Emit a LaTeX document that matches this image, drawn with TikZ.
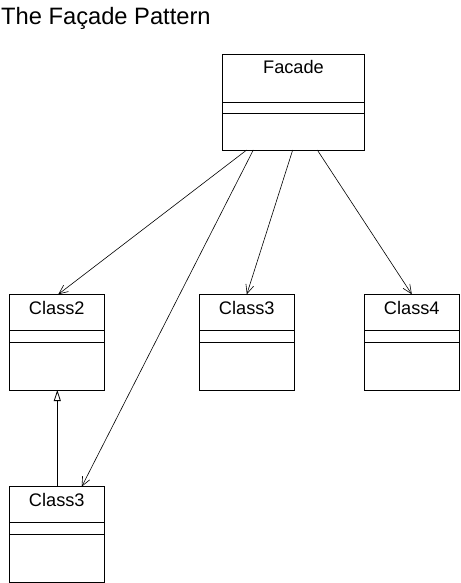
\documentclass[tikz,border=0pt]{standalone}
\usepackage{fontspec}
\setmainfont{Liberation Sans}
\usetikzlibrary{calc,arrows.meta}
\begin{document}
\begin{tikzpicture}[x=1pt,y=-1pt]
\tikzset{
  classbox/.style={draw, line width=1pt, minimum width=95pt, minimum height=95.7pt,
    anchor=north west, inner sep=0pt, outer sep=0pt},
  classname/.style={anchor=base, inner sep=0pt, font=\fontsize{18.2}{22}\selectfont},
  divider/.style={line width=1pt},
  assoc/.style={line width=0.6pt, -{Straight Barb[length=9pt,width=8pt]}},
  inherit/.style={line width=0.8pt, -{Triangle[open,length=11pt,width=7pt,fill=white]}},
}
\useasboundingbox (0,0) rectangle (460,583);
% title
\node[anchor=base west, inner sep=0pt, font=\fontsize{23.7}{28}\selectfont] (title) at (1,25) {The Façade Pattern};
% boxes
\node[classbox, minimum width=141.6pt] (facade) at (222.7,54.3) {};
\node[classbox] (c2) at (9.3,294.3) {};
\node[classbox] (c3m) at (199.3,294.3) {};
\node[classbox] (c4) at (364.3,294.3) {};
\node[classbox, minimum height=96pt] (c3b) at (9.3,486.7) {};
% names
\node[classname] (tfacade) at ($(facade.north)+(0,19.7)$) {Facade};
\node[classname] (tc2) at ($(c2.north)+(0,19.7)$) {Class2};
\node[classname] (tc3m) at ($(c3m.north)+(0,19.7)$) {Class3};
\node[classname] (tc4) at ($(c4.north)+(0,19.7)$) {Class4};
\node[classname] (tc3b) at ($(c3b.north)+(0,19.7)$) {Class3};
% dividers
\draw[divider] ($(facade.north west)+(0,48)$) -- ($(facade.north east)+(0,48)$);
\draw[divider] ($(facade.north west)+(0,59.7)$) -- ($(facade.north east)+(0,59.7)$);
\foreach \n in {c2,c3m,c4,c3b}{
  \draw[divider] ($(\n.north west)+(0,36.2)$) -- ($(\n.north east)+(0,36.2)$);
  \draw[divider] ($(\n.north west)+(0,48)$) -- ($(\n.north east)+(0,48)$);
}
% associations
\draw[assoc] ($(facade.south west)+(24,0)$) -- ($(c2.north)+(1.5,0)$);
\draw[assoc] ($(facade.south west)+(30.6,0)$) -- ($(c3b.north)+(24.9,0)$);
\draw[assoc] ($(facade.south west)+(70,0)$) -- (c3m.north);
\draw[assoc] ($(facade.south west)+(94.6,0)$) -- (c4.north);
% inheritance
\draw[inherit] ($(c3b.north)+(0.5,0)$) -- ($(c2.south)+(0.5,0)$);
\end{tikzpicture}
\end{document}
